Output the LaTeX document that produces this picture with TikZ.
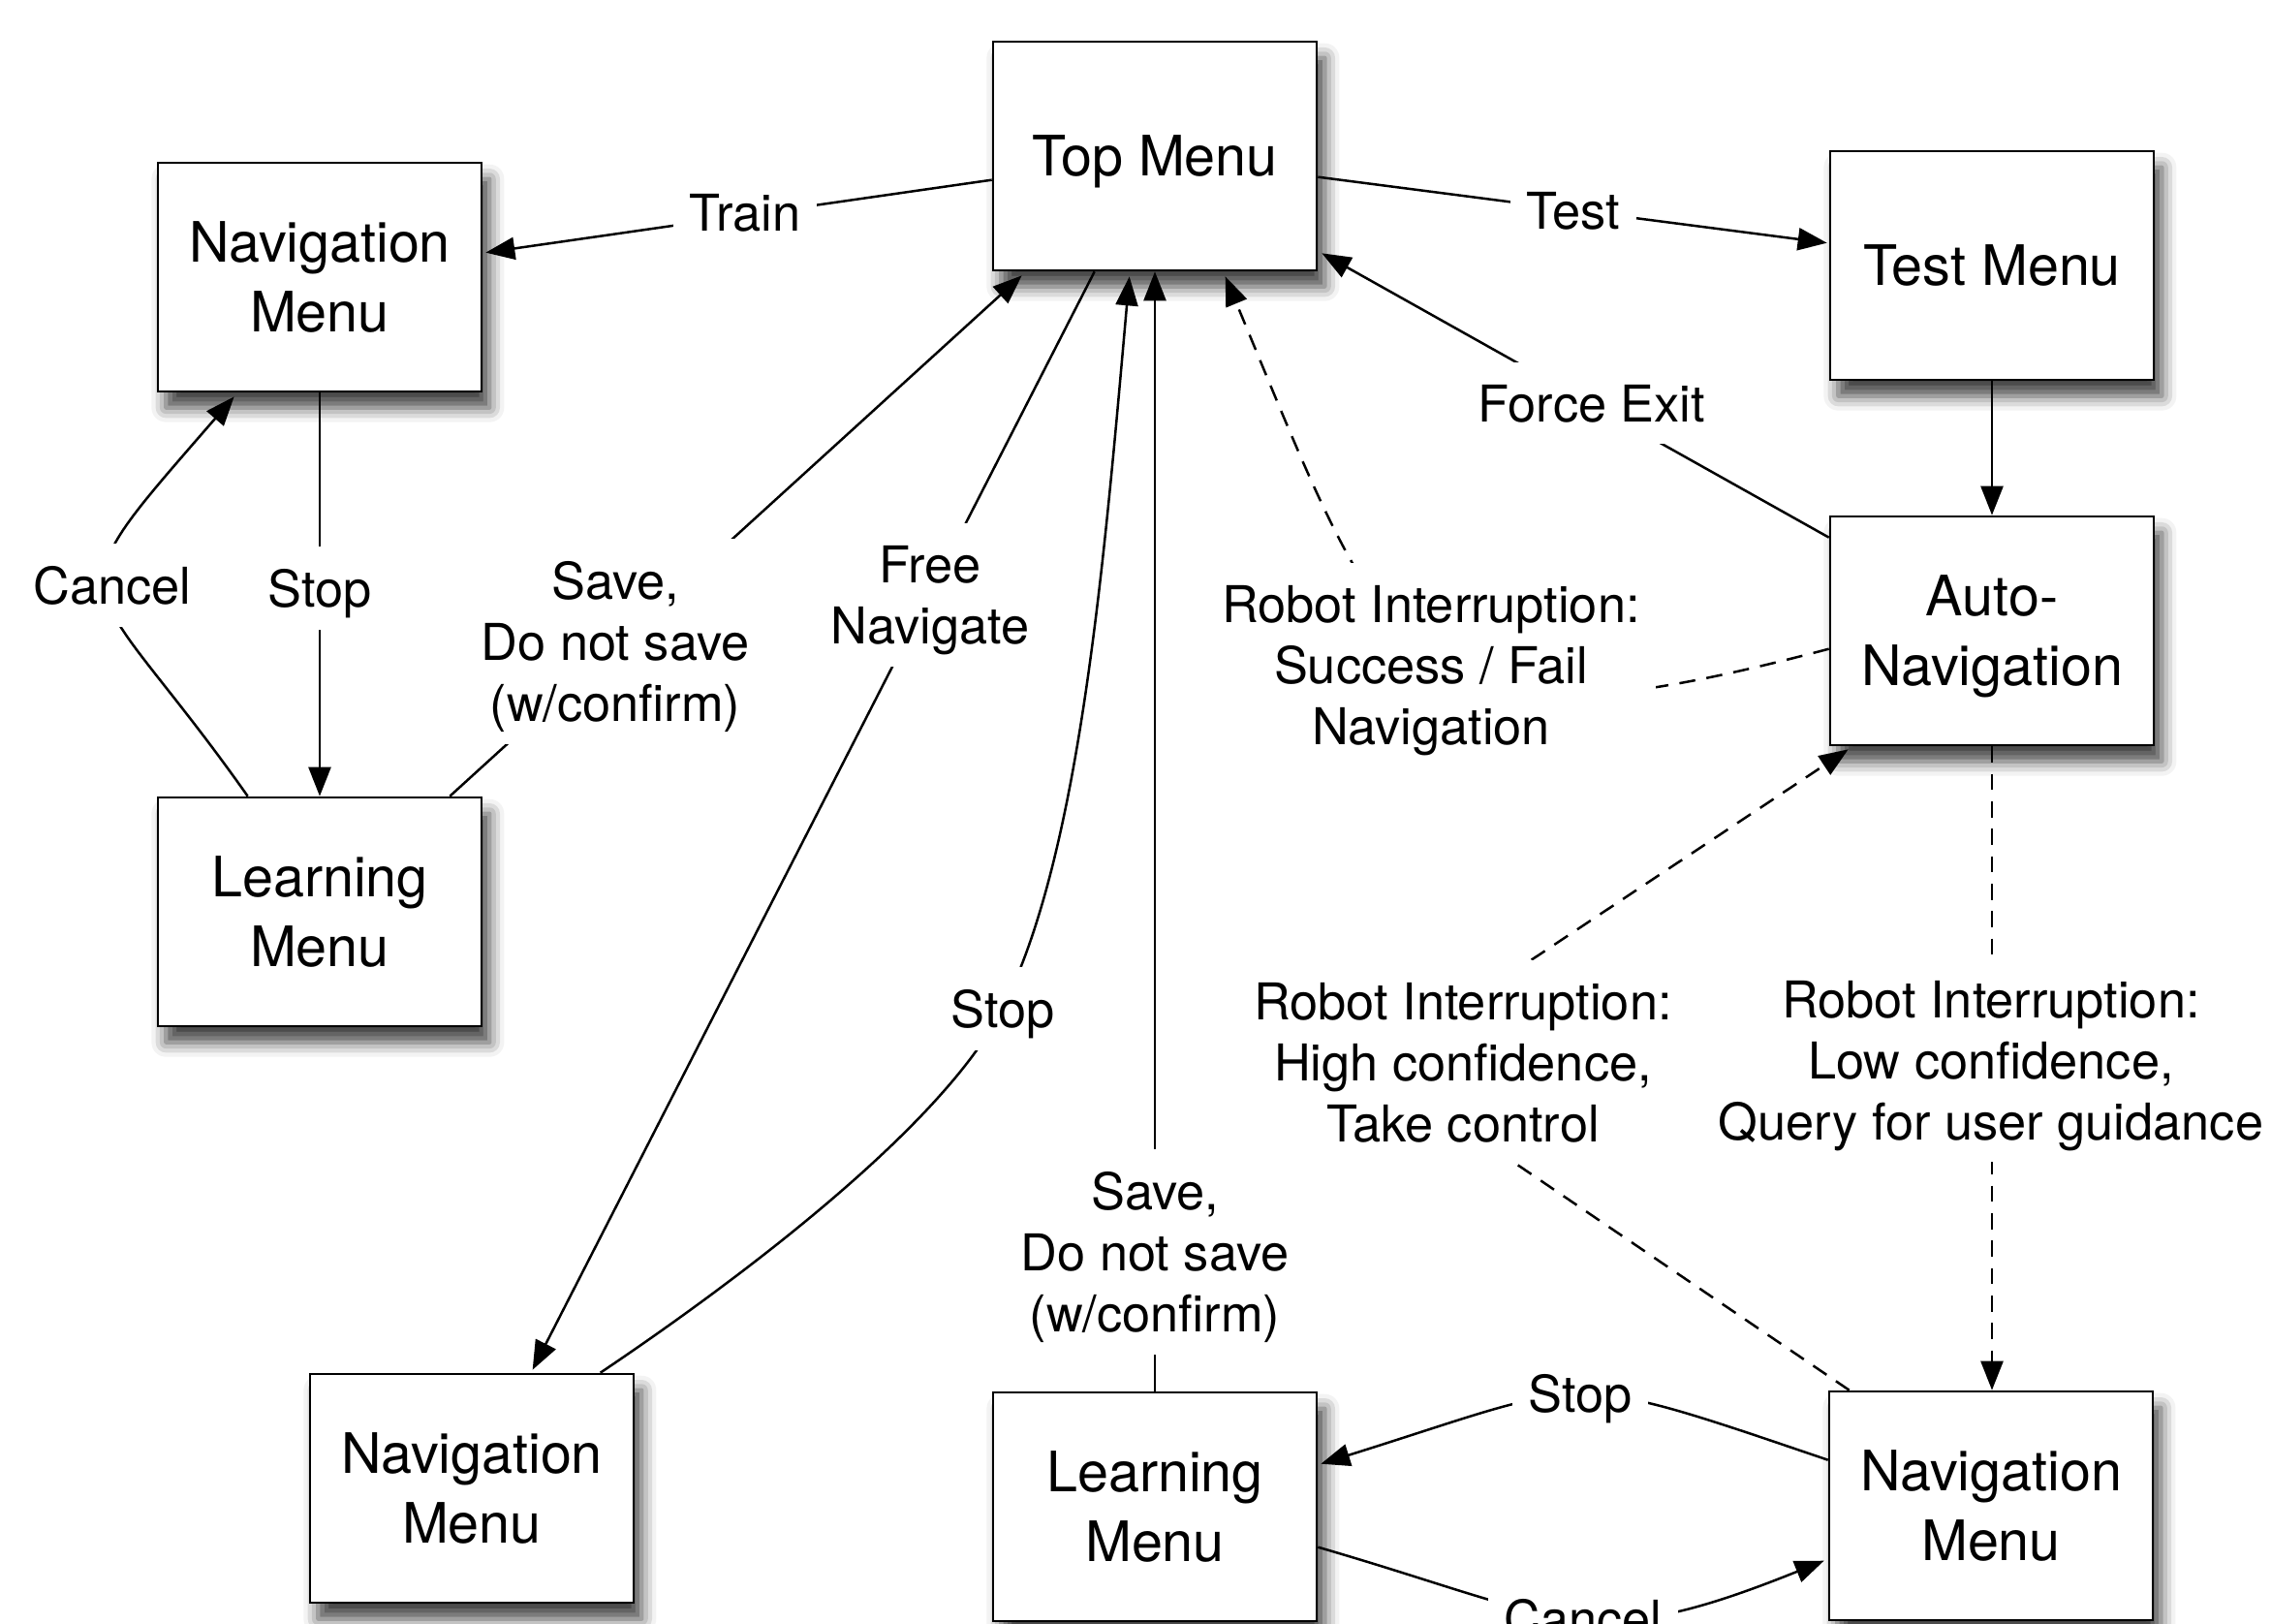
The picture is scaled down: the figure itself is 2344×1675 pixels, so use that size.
\documentclass[tikz,border=0pt]{standalone}
\usepackage{fontspec}
\setmainfont{TeX Gyre Heros}
\usetikzlibrary{arrows.meta,calc,shadows.blur}
\begin{document}
\begin{tikzpicture}[x=0.3pt,y=-0.3pt,
  box/.style={draw=black, line width=0.8pt, fill=white, minimum width=100.2pt, minimum height=70.8pt,
    inner sep=0pt, align=center, text depth=0pt, font=\fontsize{17.25}{21.6}\selectfont,
    blur shadow={shadow xshift=2.5pt, shadow yshift=-5pt, shadow blur radius=4.5pt, shadow opacity=75}},
  lbl/.style={fill=white, inner xsep=5pt, inner ysep=7pt, align=center, text depth=0pt,
    font=\fontsize{15.7}{18.9}\selectfont},
  conn/.style={line width=0.75pt, -{Triangle[length=9pt,width=6.9pt]}},
  dsh/.style={dash pattern=on 5pt off 3.5pt}
]
\useasboundingbox (0,0) rectangle (2344,1675);
\clip (0,0) rectangle (2344,1675);

% boxes
\node[box] (nav1) at (330,286) {Navigation\\Menu};
\node[box] (top) at (1192,161) {Top Menu};
\node[box] (test) at (2056,274) {Test Menu};
\node[box] (auto) at (2056,651) {Auto-\\Navigation};
\node[box] (learn1) at (330,941) {Learning\\Menu};
\node[box] (nav2) at (487,1536) {Navigation\\Menu};
\node[box] (learn2) at (1192,1555) {Learning\\Menu};
\node[box] (nav3) at (2055,1554) {Navigation\\Menu};

% connectors
\draw[conn] ($(top.north west)+(0,144)$) -- ($(nav1.north east)+(3,94)$);
\draw[conn] ($(top.north east)+(0,141)$) -- ($(test.north west)+(-2,96)$);
\draw[conn] (test.south) -- (auto.north);
\draw[conn] ($(auto.north west)+(0,23)$) -- ($(top.south east)+(4,-19)$);
\draw[conn,dsh] ($(auto.north west)+(0,138)$) .. controls (1451,785) and (1438,702) .. ($(top.south west)+(241,5)$);
\draw[conn] (nav1.south) -- (learn1.north);
\draw[conn] ($(learn1.north west)+(94,0)$) .. controls (84,578) and (46,635) .. ($(nav1.south west)+(80,4)$);
\draw[conn] ($(learn1.north east)+(-34,0)$) -- ($(top.south west)+(31,4)$);
\draw[conn] ($(top.south west)+(106,0)$) -- ($(nav2.north west)+(231,-3)$);
\coordinate (mStop) at (1034,1042);
\draw[conn] ($(nav2.north west)+(301,0)$) .. controls (771,1315) and (974,1160) .. (mStop)
  .. controls (1114,885) and (1139,587) .. ($(top.south west)+(142,5)$);
\draw[conn] (learn2.north) -- (top.south);
\draw[conn] ($(nav3.north west)+(0,72)$) .. controls (1608,1412) and (1647,1422) .. ($(learn2.north east)+(3,75)$);
\draw[conn] ($(learn2.north east)+(0,161)$) .. controls (1617,1671) and (1636,1710) .. ($(nav3.north west)+(-4,176)$);
\draw[conn,dsh] (auto.south) -- (auto.south |- nav3.north);
\coordinate (mHigh) at (1416,1100);
\draw[conn,dsh] ($(nav3.north west)+(22,0)$) -- (mHigh) -- ($(auto.south west)+(20,3)$);

% labels
\node[lbl] (lTrain) at (769,219) {Train};
\node[lbl] (lTest) at (1624,217) {Test};
\node[lbl] (lForce) at (1643,416) {Force Exit};
\node[lbl] (lSucc) at (1477,686) {Robot Interruption:\\Success / Fail\\Navigation};
\node[lbl] (lCancelA) at (116,604) {Cancel};
\node[lbl] (lStopA) at (330,607) {Stop};
\node[lbl] (lSaveA) at (635,662) {Save,\\Do not save\\(w/confirm)};
\node[lbl] (lFree) at (960,614) {Free\\Navigate};
\node[lbl] (lStopB) at (1035,1041) {Stop};
\node[lbl] (lSaveB) at (1192,1292) {Save,\\Do not save\\(w/confirm)};
\node[lbl] (lHigh) at (1510,1096) {Robot Interruption:\\High confidence,\\Take control};
\node[lbl] (lLow) at (2055,1094) {Robot Interruption:\\Low confidence,\\Query for user guidance};
\node[lbl] (lStopC) at (1631,1438) {Stop};
\node[lbl] (lCancelB) at (1634,1670) {Cancel};
\end{tikzpicture}
\end{document}
